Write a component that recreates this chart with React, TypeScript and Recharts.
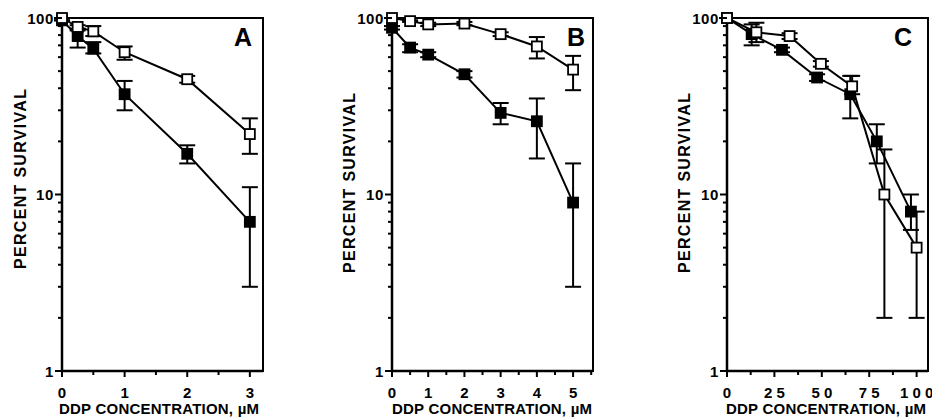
import { ErrorBar, Line, LineChart, ReferenceArea, XAxis, YAxis } from 'recharts';

const FONT = '"Liberation Sans", Arial, Helvetica, sans-serif';

// Panel A: DDP 0–3 µM
const doseA = [0, 0.25, 0.5, 1, 2, 3];
const openA = [100, 89, 84, 64, 45, 22];
const openLowA = [100, 87, 79, 58, 43, 17];
const openHighA = [100, 91, 90, 69, 47, 27];
const filledA = [97, 79, 67, 37, 17, 7];
const filledLowA = [97, 68, 63, 30, 15, 3];
const filledHighA = [97, 85, 73, 44, 19, 11];

// Panel B: DDP 0–5 µM
const doseB = [0, 0.5, 1, 2, 3, 4, 5];
const openB = [100, 96, 92, 93, 81, 69, 51];
const openLowB = [100, 95, 90, 91, 79, 59, 39];
const openHighB = [100, 97, 94, 95, 83, 78, 61];
const filledB = [88, 68, 62, 48, 29, 26, 9];
const filledLowB = [86, 64, 60, 46, 25, 16, 3];
const filledHighB = [90, 71, 64, 50, 33, 35, 15];

// Panel C: DDP 0–100 µM
const doseOpenC = [0, 15.5, 33, 49.5, 66, 83, 100];
const openC = [100, 83, 79, 55, 41, 10, 5];
const openLowC = [100, 73, 76, 53, 37, 2, 2];
const openHighC = [100, 94, 82, 57, 47, 18, 8];
const doseFilledC = [0, 13, 29, 47.5, 65, 79, 97];
const filledC = [100, 81, 66, 46, 37, 20, 8];
const filledLowC = [100, 70, 64, 44, 27, 15, 6.3];
const filledHighC = [100, 92, 68, 48, 47, 25, 10];

const yTicks = [1, 2, 3, 4, 5, 6, 7, 8, 9, 10, 20, 30, 40, 50, 60, 70, 80, 90, 100];
const yLabels = [1, 10, 100];

const xTicksA = [0, 0.5, 1, 1.5, 2, 2.5, 3];
const xMajorA = [0, 1, 2, 3];
const xLabelsA = ['0', '1', '2', '3'];
const xTicksB = [0, 0.5, 1, 1.5, 2, 2.5, 3, 3.5, 4, 4.5, 5, 5.5];
const xMajorB = [0, 1, 2, 3, 4, 5];
const xLabelsB = ['0', '1', '2', '3', '4', '5'];
const xTicksC = [0, 12.5, 25, 37.5, 50, 62.5, 75, 87.5, 100];
const xMajorC = [0, 25, 50, 75, 100];
const xLabelsC = ['0', '2 5', '5 0', '7 5', '1 0 0'];

function rows(x: number[], y: number[], lo: number[], hi: number[]) {
  return x.map((d, i) => ({ x: d, y: y[i], err: [y[i] - lo[i], hi[i] - y[i]] }));
}

const square = (fill: string) => (props: any) => {
  const { cx, cy, index } = props;
  if (cx == null || cy == null) return <g key={index} />;
  return (
    <rect key={index} x={cx - 5} y={cy - 5} width={10} height={10} fill={fill} stroke="#000" strokeWidth={1.8} />
  );
};

const YTick = (props: any) => {
  const { x, y, payload } = props;
  const v = payload.value;
  const major = yLabels.includes(v);
  return (
    <g>
      <line x1={x} x2={x - (major ? 7 : 4)} y1={y} y2={y} stroke="#000" strokeWidth={2} />
      {major && (
        <text
          x={x - 8}
          y={y}
          dy={5.5}
          textAnchor="end"
          fontFamily={FONT}
          fontWeight="bold"
          fontSize={15}
          letterSpacing={0.6}
          fill="#000"
        >
          {v}
        </text>
      )}
    </g>
  );
};

const makeXTick = (majors: number[], labels: string[]) => (props: any) => {
  const { x, y, payload } = props;
  const i = majors.indexOf(payload.value);
  return (
    <g>
      <line x1={x} x2={x} y1={y} y2={y + (i >= 0 ? 6 : 4)} stroke="#000" strokeWidth={2} />
      {i >= 0 && (
        <text x={x} y={y + 27} textAnchor="middle" fontFamily={FONT} fontWeight="bold" fontSize={15} fill="#000">
          {labels[i]}
        </text>
      )}
    </g>
  );
};

interface PanelProps {
  left: number;
  width: number;
  plotLeft: number;
  plotRight: number;
  xMax: number;
  xTicks: number[];
  xMajor: number[];
  xLabels: string[];
  open: any[];
  filled: any[];
}

function Panel({ left, width, plotLeft, plotRight, xMax, xTicks, xMajor, xLabels, open, filled }: PanelProps) {
  return (
    <div style={{ position: 'absolute', left, top: 0 }}>
      <LineChart
        width={width}
        height={418}
        margin={{ top: 18, right: width - plotRight, bottom: 17, left: plotLeft - 50 }}
        style={{ overflow: 'visible' }}
      >
        <XAxis
          dataKey="x"
          type="number"
          domain={[0, xMax]}
          ticks={xTicks}
          interval={0}
          height={30}
          tickSize={0}
          tickMargin={0}
          tickLine={false}
          axisLine={{ stroke: '#000', strokeWidth: 2.5 }}
          tick={makeXTick(xMajor, xLabels)}
        />
        <YAxis
          type="number"
          scale="log"
          domain={[1, 100]}
          ticks={yTicks}
          interval={0}
          width={50}
          tickSize={0}
          tickMargin={0}
          tickLine={false}
          axisLine={{ stroke: '#000', strokeWidth: 2.5 }}
          tick={YTick}
        />
        <ReferenceArea x1={0} x2={xMax} y1={1} y2={100} fill="none" fillOpacity={0} stroke="#000" strokeWidth={2} />
        <Line
          data={filled}
          dataKey="y"
          stroke="#000"
          strokeWidth={2}
          isAnimationActive={false}
          dot={square('#000')}
          activeDot={false}
        >
          <ErrorBar dataKey="err" width={8} strokeWidth={2} stroke="#000" />
        </Line>
        <Line
          data={open}
          dataKey="y"
          stroke="#000"
          strokeWidth={2}
          isAnimationActive={false}
          dot={square('#fff')}
          activeDot={false}
        >
          <ErrorBar dataKey="err" width={8} strokeWidth={2} stroke="#000" />
        </Line>
      </LineChart>
    </div>
  );
}

const textStyle = { fontFamily: FONT, fontWeight: 'bold' as const, fill: '#000' };

export default function App() {
  return (
    <div style={{ position: 'absolute', left: 0, top: 0, width: 932, height: 418, background: '#fff', overflow: 'hidden' }}>
      <Panel
        left={0}
        width={300}
        plotLeft={62}
        plotRight={263}
        xMax={3.21}
        xTicks={xTicksA}
        xMajor={xMajorA}
        xLabels={xLabelsA}
        open={rows(doseA, openA, openLowA, openHighA)}
        filled={rows(doseA, filledA, filledLowA, filledHighA)}
      />
      <Panel
        left={300}
        width={320}
        plotLeft={92}
        plotRight={293}
        xMax={5.55}
        xTicks={xTicksB}
        xMajor={xMajorB}
        xLabels={xLabelsB}
        open={rows(doseB, openB, openLowB, openHighB)}
        filled={rows(doseB, filledB, filledLowB, filledHighB)}
      />
      <Panel
        left={620}
        width={312}
        plotLeft={107}
        plotRight={308}
        xMax={106}
        xTicks={xTicksC}
        xMajor={xMajorC}
        xLabels={xLabelsC}
        open={rows(doseOpenC, openC, openLowC, openHighC)}
        filled={rows(doseFilledC, filledC, filledLowC, filledHighC)}
      />
      <svg width={932} height={418} style={{ position: 'absolute', left: 0, top: 0, pointerEvents: 'none' }}>
        {[
          { x: 26, y: 179 },
          { x: 355, y: 183 },
          { x: 690, y: 183 },
        ].map((p, i) => (
          <text
            key={i}
            transform={`translate(${p.x},${p.y}) rotate(-90)`}
            textAnchor="middle"
            fontSize={16}
            textLength={180}
            lengthAdjust="spacing"
            {...textStyle}
          >
            PERCENT SURVIVAL
          </text>
        ))}
        {[159, 492, 826].map((cx, i) => (
          <text
            key={i}
            x={cx}
            y={414}
            textAnchor="middle"
            fontSize={15}
            textLength={200}
            lengthAdjust="spacing"
            {...textStyle}
          >
            DDP CONCENTRATION, µM
          </text>
        ))}
        {[
          { t: 'A', x: 243 },
          { t: 'B', x: 576 },
          { t: 'C', x: 903 },
        ].map((p) => (
          <text key={p.t} x={p.x} y={46} textAnchor="middle" fontSize={25} fontWeight={900} fontFamily={FONT} fill="#000">
            {p.t}
          </text>
        ))}
      </svg>
    </div>
  );
}
